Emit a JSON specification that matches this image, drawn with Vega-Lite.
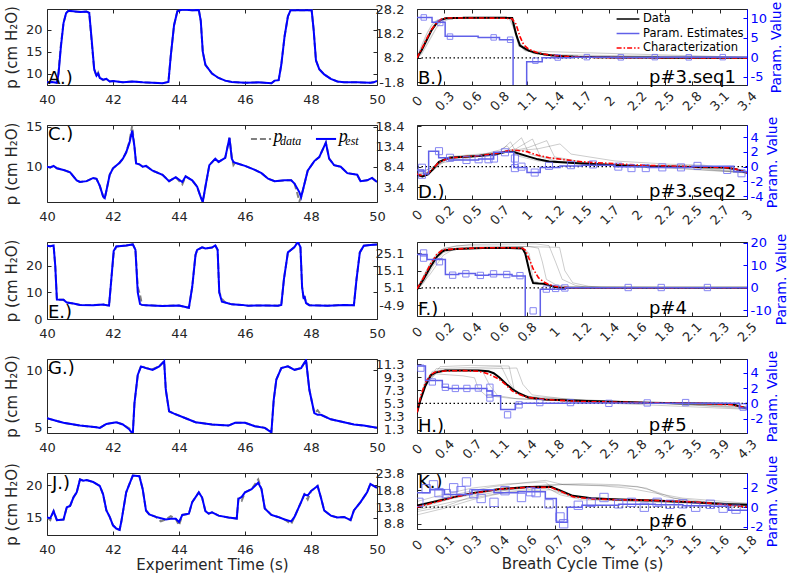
{
"$schema":"https://vega.github.io/schema/vega-lite/v6.json",
"padding":{"left":3,"top":0,"right":0,"bottom":0},
"background":"white",
"columns":2,
"spacing":{"row":40,"column":40},
"bounds":"flush",
"resolve":{"scale":{"color":"independent","strokeDash":"independent"},"legend":{"color":"independent","strokeDash":"independent"}},
"config":{
 "font":"DejaVu Sans",
 "locale":{"number":{"decimal":".","thousands":",","grouping":[3],"currency":["$",""],"minus":"-"}},
 "view":{"stroke":"#262626","strokeWidth":1},
 "axis":{"domain":false,"grid":false,"tickSize":-4,"tickColor":"#262626","labelColor":"#262626","labelFontSize":13,"labelFlush":false,"labelOverlap":false,"titleFontSize":15,"titleFontWeight":"normal","titleColor":"#262626","labelFont":"DejaVu Sans","titleFont":"DejaVu Sans"},
 "axisRight":{"titleFontSize":14},
 "text":{"font":"DejaVu Sans","fontSize":18,"color":"#000000"}
},
"concat":[
 {"width":330,"height":76,
  "data":{"values":[{"t":40,"e":8,"d":8},{"t":40.15,"e":8.1,"d":8.1},{"t":40.3,"e":7.9,"d":7.9},{"t":40.35,"e":10,"d":10.5},{"t":40.42,"e":16,"d":16.5},{"t":40.5,"e":21.5,"d":21.5},{"t":40.58,"e":23.8,"d":23.8},{"t":40.65,"e":24.3,"d":24.3},{"t":40.8,"e":24.2,"d":24.1},{"t":41,"e":24,"d":24.1},{"t":41.2,"e":24.1,"d":24.1},{"t":41.28,"e":23.8,"d":23.8},{"t":41.35,"e":18,"d":17.5},{"t":41.43,"e":11,"d":11},{"t":41.5,"e":9.5,"d":9.4},{"t":41.55,"e":10,"d":10.2},{"t":41.6,"e":9,"d":9},{"t":41.7,"e":8.6,"d":8.5},{"t":41.8,"e":8.8,"d":8.8},{"t":41.9,"e":8.2,"d":8.2},{"t":42,"e":8.3,"d":8.3},{"t":42.3,"e":8,"d":8},{"t":42.6,"e":8.2,"d":8.2},{"t":42.9,"e":8,"d":8},{"t":43.2,"e":7.9,"d":7.9},{"t":43.5,"e":7.8,"d":7.8},{"t":43.62,"e":8,"d":8},{"t":43.68,"e":8.1,"d":8.1},{"t":43.75,"e":14,"d":14},{"t":43.85,"e":21,"d":21},{"t":43.95,"e":24.2,"d":24.2},{"t":44.1,"e":24.6,"d":24.6},{"t":44.4,"e":24.4,"d":24.4},{"t":44.6,"e":24.5,"d":24.5},{"t":44.66,"e":22,"d":22},{"t":44.72,"e":15,"d":15},{"t":44.8,"e":12,"d":12},{"t":45,"e":10,"d":10},{"t":45.2,"e":9,"d":9},{"t":45.4,"e":8.4,"d":8.4},{"t":45.6,"e":8.1,"d":8.1},{"t":46,"e":7.9,"d":7.9},{"t":46.4,"e":8,"d":8},{"t":46.8,"e":7.8,"d":7.8},{"t":46.9,"e":8.4,"d":8.4},{"t":47.02,"e":8.5,"d":8.5},{"t":47.1,"e":12,"d":12},{"t":47.2,"e":18.5,"d":18.5},{"t":47.3,"e":23,"d":23},{"t":47.38,"e":24.4,"d":24.4},{"t":47.6,"e":24.4,"d":24.4},{"t":47.8,"e":24.4,"d":24.4},{"t":48.02,"e":24.4,"d":24.4},{"t":48.08,"e":20,"d":20},{"t":48.15,"e":13,"d":13},{"t":48.25,"e":11,"d":11},{"t":48.4,"e":9.8,"d":9.8},{"t":48.6,"e":8.8,"d":8.8},{"t":48.8,"e":8.2,"d":8.2},{"t":49,"e":8,"d":8},{"t":49.4,"e":8,"d":8},{"t":49.8,"e":7.9,"d":7.9},{"t":49.9,"e":8,"d":8},{"t":50,"e":8.3,"d":8.3}]},
  "layer":[
   {"mark":{"type":"line","color":"#808080","strokeWidth":2,"strokeDash":[6,3],"clip":true},
    "encoding":{"x":{"field":"t","type":"quantitative","scale":{"domain":[40,50],"nice":false},"axis":{"orient":"top","labels":false,"title":null,"values":[40,42,44,46,48,50]}},
     "y":{"field":"d","type":"quantitative","scale":{"domain":[7.4,24.7],"nice":false,"zero":false},"axis":{"orient":"right","labels":false,"title":null,"values":[10,15,20]}}}},
   {"mark":{"type":"line","color":"#0000ff","strokeWidth":2,"clip":true},
    "encoding":{"x":{"field":"t","type":"quantitative","scale":{"domain":[40,50],"nice":false},"axis":{"title":null,"values":[40,42,44,46,48,50],"labelPadding":12}},
     "y":{"field":"e","type":"quantitative","scale":{"domain":[7.4,24.7],"nice":false,"zero":false},"axis":{"title":"p (cm H₂O)","values":[10,15,20],"labelPadding":9,"titlePadding":6}}}},
   {"data":{"values":[{}]},"mark":{"type":"text","text":"A.)","align":"left","baseline":"alphabetic","dx":1,"dy":-1},
    "encoding":{"x":{"datum":40,"axis":null},"y":{"datum":7.4,"axis":null}}}
  ],
  "resolve":{"axis":{"x":"independent","y":"independent"}}},
 {"width":330,"height":76,
  "data":{"values":[{"t":0,"d":8.2,"c":8.2},{"t":0.05,"d":11.5,"c":12},{"t":0.1,"d":15.5,"c":16},{"t":0.15,"d":19.5,"c":19.8},{"t":0.2,"d":22.3,"c":22.5},{"t":0.25,"d":23.8,"c":24},{"t":0.3,"d":24.4,"c":24.5},{"t":0.5,"d":24.6,"c":24.5},{"t":0.7,"d":24.6,"c":24.5},{"t":0.9,"d":24.6,"c":24.4},{"t":0.98,"d":24.5,"c":24.2},{"t":1.02,"d":18,"c":22},{"t":1.06,"d":13.3,"c":17},{"t":1.1,"d":12.3,"c":13.5},{"t":1.15,"d":11.2,"c":11.8},{"t":1.22,"d":10.3,"c":10.6},{"t":1.3,"d":9.7,"c":9.8},{"t":1.39,"d":9.2,"c":9.3},{"t":1.5,"d":8.9,"c":8.9},{"t":1.67,"d":8.6,"c":8.5},{"t":2,"d":8.4,"c":8.3},{"t":2.5,"d":8.3,"c":8.25},{"t":3,"d":8.3,"c":8.2},{"t":3.4,"d":8.3,"c":8.2}]},
  "layer":[
   {"data":{"values":[{"k":1,"t":0,"v":8.2},{"k":1,"t":0.05,"v":13.5},{"k":1,"t":0.1,"v":18},{"k":1,"t":0.15,"v":21.5},{"k":1,"t":0.2,"v":23.5},{"k":1,"t":0.3,"v":24.4},{"k":1,"t":0.95,"v":24.4},{"k":1,"t":1,"v":20},{"k":1,"t":1.05,"v":13},{"k":1,"t":1.2,"v":10},{"k":1,"t":1.5,"v":8.8},{"k":1,"t":3.4,"v":8.3},{"k":2,"t":0,"v":8},{"k":2,"t":0.05,"v":10},{"k":2,"t":0.1,"v":13.5},{"k":2,"t":0.15,"v":17},{"k":2,"t":0.2,"v":20.5},{"k":2,"t":0.25,"v":22.8},{"k":2,"t":0.35,"v":24.4},{"k":2,"t":0.99,"v":24.6},{"k":2,"t":1.04,"v":15},{"k":2,"t":1.1,"v":11.5},{"k":2,"t":1.3,"v":9.5},{"k":2,"t":3.4,"v":8.3},{"k":3,"t":0,"v":8.4},{"k":3,"t":0.05,"v":12},{"k":3,"t":0.1,"v":16.5},{"k":3,"t":0.2,"v":23},{"k":3,"t":0.3,"v":24.7},{"k":3,"t":0.97,"v":24.8},{"k":3,"t":1.03,"v":16},{"k":3,"t":1.12,"v":11},{"k":3,"t":3.4,"v":8.4}]},
    "mark":{"type":"line","color":"#000000","opacity":0.2,"strokeWidth":1.2,"clip":true},
    "encoding":{"detail":{"field":"k"},
     "x":{"field":"t","type":"quantitative","scale":{"domain":[0,3.4],"nice":false},"axis":{"title":null,"values":[0,0.28333,0.56667,0.85,1.13333,1.41667,1.7,1.98333,2.26667,2.55,2.83333,3.11667,3.4],"labelExpr":"['0','0.3','0.6','0.8','1.1','1.4','1.7','2','2.2','2.5','2.8','3.1','3.4'][round(datum.value*12/3.4)]","labelAngle":-45,"labelAlign":"center","labelBaseline":"middle","labelPadding":20}},
     "y":{"field":"v","type":"quantitative","scale":{"domain":[-2.9,28.2],"nice":false,"zero":false},"axis":{"title":null,"values":[-1.8,8.2,18.2,28.2],"format":".1f","labelPadding":17}}}},
   {"data":{"values":[{}]},"mark":{"type":"rule","color":"#000000","strokeDash":[1.5,2.5],"strokeWidth":1.2},"encoding":{"y":{"datum":8.2,"scale":{"domain":[-2.9,28.2],"nice":false,"zero":false},"axis":null}}},
   {"mark":{"type":"line","strokeWidth":2,"clip":true},
    "encoding":{"x":{"field":"t","type":"quantitative","axis":null},"y":{"field":"d","type":"quantitative","scale":{"domain":[-2.9,28.2],"nice":false,"zero":false},"axis":null},
     "color":{"datum":"Data","scale":{"domain":["Data","Param. Estimates","Characterization"],"range":["#000000","#6060e8","#ff0000"]},"legend":{"title":null,"orient":"top-right","offset":3,"padding":0,"labelFontSize":11.5,"labelColor":"#000000","symbolType":"M-1.9,0H1.9","symbolSize":144,"symbolStrokeWidth":1.5,"labelOffset":8,"rowPadding":1.5}},
     "strokeDash":{"datum":"Data","scale":{"domain":["Data","Param. Estimates","Characterization"],"range":[[1,0],[1,0],[5,2,1.5,2]]}}}},
   {"mark":{"type":"line","strokeWidth":1.6,"clip":true},
    "encoding":{"x":{"field":"t","type":"quantitative","axis":null},"y":{"field":"c","type":"quantitative","scale":{"domain":[-2.9,28.2],"nice":false,"zero":false},"axis":null},"color":{"datum":"Characterization"},"strokeDash":{"datum":"Characterization"}}},
   {"data":{"values":[{}]},"mark":{"type":"text","text":"B.)","align":"left","baseline":"alphabetic","dx":1,"dy":-1},"encoding":{"x":{"datum":0,"axis":null},"y":{"datum":-2.9,"scale":{"domain":[-2.9,28.2],"nice":false,"zero":false},"axis":null}}},
   {"data":{"values":[{}]},"mark":{"type":"text","text":"p#3.seq1","align":"left","baseline":"alphabetic","dy":-2},"encoding":{"x":{"datum":2.39,"axis":null},"y":{"datum":-2.9,"scale":{"domain":[-2.9,28.2],"nice":false,"zero":false},"axis":null}}},
   {"data":{"values":[{"t":0,"p":10.2},{"t":0.155,"p":8.95},{"t":0.29,"p":5.37},{"t":0.63,"p":5.1},{"t":0.85,"p":4.5},{"t":0.99,"p":-12},{"t":1.13,"p":-1.1},{"t":1.29,"p":-0.1},{"t":1.6,"p":0.05},{"t":2,"p":-0.05},{"t":2.5,"p":0.05},{"t":3,"p":0},{"t":3.4,"p":0}]},
    "mark":{"type":"line","interpolate":"step-after","strokeWidth":1.5,"clip":true},
    "encoding":{"x":{"field":"t","type":"quantitative","scale":{"domain":[0,3.4],"nice":false},"axis":{"orient":"top","labels":false,"title":null,"values":[0,0.28333,0.56667,0.85,1.13333,1.41667,1.7,1.98333,2.26667,2.55,2.83333,3.11667,3.4]}},
     "y":{"field":"p","type":"quantitative","scale":{"domain":[-7.07,12.36],"nice":false,"zero":false},"axis":{"orient":"right","title":"Param. Value","values":[-5,0,5,10],"labelColor":"#0000ff","tickColor":"#0000ff","domain":true,"domainColor":"#0000ff","titleColor":"#0000ff","labelPadding":7,"titlePadding":3,"titleAngle":270,"titleBaseline":"top"}},
     "color":{"datum":"Param. Estimates"},"strokeDash":{"datum":"Param. Estimates"}}},
   {"data":{"values":[{"t":0.07,"p":10.2},{"t":0.24,"p":8.8},{"t":0.34,"p":5.3},{"t":0.79,"p":5.1},{"t":0.96,"p":4.5},{"t":1.22,"p":-0.85},{"t":1.45,"p":-0.05},{"t":1.75,"p":0.05},{"t":2.1,"p":0},{"t":2.45,"p":0.05},{"t":2.8,"p":0},{"t":3.15,"p":0.05}]},
    "mark":{"type":"point","shape":"square","size":30,"color":"#6a6af0","strokeWidth":1,"opacity":0.8,"clip":true},
    "encoding":{"x":{"field":"t","type":"quantitative","axis":null},"y":{"field":"p","type":"quantitative","scale":{"domain":[-7.07,12.36],"nice":false,"zero":false},"axis":null}}}
  ],
  "resolve":{"scale":{"y":"independent"},"axis":{"x":"independent","y":"independent"}}},
 {"width":330,"height":77,
  "data":{"values":[{"t":40,"e":10,"d":10},{"t":40.1,"e":9.9,"d":9.9},{"t":40.2,"e":10.1,"d":10.1},{"t":40.3,"e":9.8,"d":9.8},{"t":40.5,"e":9.6,"d":9.6},{"t":40.7,"e":9.3,"d":9.3},{"t":40.9,"e":8.3,"d":8.3},{"t":41,"e":8.1,"d":8.1},{"t":41.2,"e":8.2,"d":8.2},{"t":41.4,"e":8.6,"d":8.6},{"t":41.5,"e":8.5,"d":8.5},{"t":41.6,"e":7.6,"d":7.6},{"t":41.7,"e":6.3,"d":6.3},{"t":41.75,"e":6.1,"d":6},{"t":41.8,"e":7,"d":7},{"t":41.9,"e":9,"d":9},{"t":42,"e":9.8,"d":9.8},{"t":42.2,"e":10.5,"d":10.5},{"t":42.3,"e":11,"d":11},{"t":42.4,"e":11.8,"d":11.8},{"t":42.5,"e":13,"d":13.2},{"t":42.58,"e":14.5,"d":15.1},{"t":42.65,"e":12.5,"d":12.5},{"t":42.7,"e":10.4,"d":10.4},{"t":42.8,"e":10.3,"d":10.3},{"t":42.9,"e":10,"d":10},{"t":43,"e":10.1,"d":10.1},{"t":43.2,"e":9.5,"d":9.5},{"t":43.5,"e":9,"d":9},{"t":43.7,"e":8.2,"d":8.2},{"t":43.9,"e":8.7,"d":8.7},{"t":44.1,"e":8.1,"d":7.8},{"t":44.2,"e":8.8,"d":8.8},{"t":44.4,"e":8.3,"d":8.3},{"t":44.55,"e":7.5,"d":7.5},{"t":44.65,"e":6.3,"d":6.3},{"t":44.72,"e":5.6,"d":5.6},{"t":44.8,"e":7.5,"d":7.5},{"t":44.92,"e":10.2,"d":10.2},{"t":45.1,"e":11,"d":11},{"t":45.2,"e":10.6,"d":10.6},{"t":45.4,"e":11.1,"d":11.1},{"t":45.53,"e":13.6,"d":13.6},{"t":45.6,"e":11,"d":11.2},{"t":45.65,"e":10.6,"d":10.2},{"t":45.7,"e":10.5,"d":10.5},{"t":46,"e":10.1,"d":10.1},{"t":46.3,"e":9.6,"d":9.6},{"t":46.5,"e":9.2,"d":9.2},{"t":46.7,"e":8.5,"d":8.5},{"t":46.9,"e":8.2,"d":8.2},{"t":47.2,"e":8.3,"d":8.3},{"t":47.4,"e":8.3,"d":8.3},{"t":47.5,"e":7.9,"d":7.9},{"t":47.65,"e":6.8,"d":5.7},{"t":47.7,"e":6.2,"d":6.2},{"t":47.75,"e":7,"d":7},{"t":47.9,"e":9.5,"d":9.5},{"t":48.1,"e":10.7,"d":10.7},{"t":48.25,"e":11.2,"d":11.2},{"t":48.45,"e":13,"d":13},{"t":48.55,"e":11,"d":11},{"t":48.7,"e":10.2,"d":10.2},{"t":48.9,"e":10,"d":10},{"t":49.1,"e":9.2,"d":9.2},{"t":49.4,"e":9,"d":9},{"t":49.5,"e":8.2,"d":8.2},{"t":49.7,"e":8.3,"d":8.3},{"t":49.85,"e":8.6,"d":8.6},{"t":50,"e":8.1,"d":8.1}]},
  "layer":[
   {"mark":{"type":"line","color":"#808080","strokeWidth":2,"strokeDash":[6,3],"clip":true},
    "encoding":{"x":{"field":"t","type":"quantitative","scale":{"domain":[40,50],"nice":false},"axis":{"orient":"top","labels":false,"title":null,"values":[40,42,44,46,48,50]}},
     "y":{"field":"d","type":"quantitative","scale":{"domain":[5.6,15.2],"nice":false,"zero":false},"axis":{"orient":"right","labels":false,"title":null,"values":[10,15]}}}},
   {"mark":{"type":"line","color":"#0000ff","strokeWidth":2,"clip":true},
    "encoding":{"x":{"field":"t","type":"quantitative","scale":{"domain":[40,50],"nice":false},"axis":{"title":null,"values":[40,42,44,46,48,50],"labelPadding":12}},
     "y":{"field":"e","type":"quantitative","scale":{"domain":[5.6,15.2],"nice":false,"zero":false},"axis":{"title":"p (cm H₂O)","values":[10,15],"labelPadding":9,"titlePadding":6}}}},
   {"data":{"values":[{}]},"mark":{"type":"text","text":"C.)","align":"left","baseline":"top","dx":1,"dy":1},
    "encoding":{"x":{"datum":40,"axis":null},"y":{"datum":15.2,"axis":null}}},
   {"data":{"values":[{}]},"mark":{"type":"rule","color":"#808080","strokeWidth":2,"strokeDash":[6,3]},
    "encoding":{"x":{"datum":46.18,"axis":null},"x2":{"datum":46.79},"y":{"datum":13.46,"axis":null}}},
   {"data":{"values":[{}]},"mark":{"type":"text","text":"p","font":"Liberation Serif","fontStyle":"italic","fontSize":18,"align":"left","baseline":"alphabetic"},
    "encoding":{"x":{"datum":46.86,"axis":null},"y":{"datum":13.1,"axis":null}}},
   {"data":{"values":[{}]},"mark":{"type":"text","text":"data","font":"Liberation Serif","fontStyle":"italic","fontSize":12,"align":"left","baseline":"alphabetic"},
    "encoding":{"x":{"datum":47.06,"axis":null},"y":{"datum":12.75,"axis":null}}},
   {"data":{"values":[{}]},"mark":{"type":"rule","color":"#0000ff","strokeWidth":2},
    "encoding":{"x":{"datum":48.15,"axis":null},"x2":{"datum":48.76},"y":{"datum":13.46,"axis":null}}},
   {"data":{"values":[{}]},"mark":{"type":"text","text":"p","font":"Liberation Serif","fontStyle":"italic","fontSize":18,"align":"left","baseline":"alphabetic"},
    "encoding":{"x":{"datum":48.84,"axis":null},"y":{"datum":13.1,"axis":null}}},
   {"data":{"values":[{}]},"mark":{"type":"text","text":"est","font":"Liberation Serif","fontStyle":"italic","fontSize":12,"align":"left","baseline":"alphabetic"},
    "encoding":{"x":{"datum":49.04,"axis":null},"y":{"datum":12.75,"axis":null}}}
  ],
  "resolve":{"axis":{"x":"independent","y":"independent"}}},
 {"width":330,"height":74,
  "data":{"values":[{"t":0,"d":6.4,"c":6.6},{"t":0.05,"d":6,"c":6.2},{"t":0.1,"d":6.5,"c":6.8},{"t":0.14,"d":7.6,"c":7.8},{"t":0.2,"d":9.6,"c":9.5},{"t":0.29,"d":10.6,"c":10.5},{"t":0.4,"d":10.8,"c":10.8},{"t":0.56,"d":11,"c":11.1},{"t":0.71,"d":11.4,"c":11.6},{"t":0.8,"d":12,"c":12.2},{"t":0.88,"d":12,"c":12.5},{"t":1,"d":11,"c":12.1},{"t":1.1,"d":10.2,"c":11.2},{"t":1.2,"d":9.7,"c":10.6},{"t":1.5,"d":9.2,"c":9.6},{"t":2,"d":8.5,"c":8.8},{"t":2.5,"d":8.3,"c":8.4},{"t":2.8,"d":8.2,"c":8.2},{"t":2.9,"d":7.8,"c":7.8},{"t":3,"d":6.9,"c":7}]},
  "layer":[
   {"data":{"values":[{"k":1,"t":0,"v":6.2},{"k":1,"t":0.05,"v":5.8},{"k":1,"t":0.15,"v":8},{"k":1,"t":0.25,"v":10.4},{"k":1,"t":0.5,"v":11},{"k":1,"t":0.75,"v":12},{"k":1,"t":0.85,"v":14.5},{"k":1,"t":0.92,"v":11},{"k":1,"t":1.1,"v":9.8},{"k":1,"t":1.5,"v":9.2},{"k":1,"t":2,"v":8.6},{"k":1,"t":2.5,"v":8.4},{"k":1,"t":3,"v":7},{"k":2,"t":0,"v":6.6},{"k":2,"t":0.05,"v":6.2},{"k":2,"t":0.15,"v":7.8},{"k":2,"t":0.25,"v":10.5},{"k":2,"t":0.5,"v":10.9},{"k":2,"t":0.8,"v":12},{"k":2,"t":0.95,"v":15.5},{"k":2,"t":1.02,"v":11.5},{"k":2,"t":1.3,"v":9.6},{"k":2,"t":2,"v":8.6},{"k":2,"t":2.5,"v":8.2},{"k":2,"t":3,"v":6.8},{"k":3,"t":0,"v":6.4},{"k":3,"t":0.15,"v":7.5},{"k":3,"t":0.25,"v":10.2},{"k":3,"t":0.6,"v":11.2},{"k":3,"t":0.9,"v":12.8},{"k":3,"t":1.05,"v":15.2},{"k":3,"t":1.12,"v":11},{"k":3,"t":1.5,"v":9.4},{"k":3,"t":2,"v":8.7},{"k":3,"t":2.6,"v":8.6},{"k":3,"t":3,"v":7.2},{"k":4,"t":0,"v":6},{"k":4,"t":0.15,"v":7.7},{"k":4,"t":0.3,"v":10.7},{"k":4,"t":0.7,"v":11.5},{"k":4,"t":1,"v":13},{"k":4,"t":1.18,"v":14.8},{"k":4,"t":1.25,"v":10.8},{"k":4,"t":1.6,"v":9.1},{"k":4,"t":2.2,"v":8.4},{"k":4,"t":3,"v":6.9},{"k":5,"t":0,"v":6.8},{"k":5,"t":0.15,"v":8.2},{"k":5,"t":0.3,"v":10.9},{"k":5,"t":0.7,"v":11.8},{"k":5,"t":1.1,"v":12.8},{"k":5,"t":1.3,"v":14},{"k":5,"t":1.4,"v":11.5},{"k":5,"t":1.8,"v":9.8},{"k":5,"t":2.3,"v":9},{"k":5,"t":2.6,"v":8.8},{"k":5,"t":3,"v":7.3},{"k":6,"t":0,"v":6.3},{"k":6,"t":0.2,"v":9.2},{"k":6,"t":0.5,"v":10.7},{"k":6,"t":0.75,"v":12.5},{"k":6,"t":0.82,"v":13.5},{"k":6,"t":0.88,"v":11.5},{"k":6,"t":1.2,"v":9.8},{"k":6,"t":2,"v":8.5},{"k":6,"t":3,"v":6.9}]},
    "mark":{"type":"line","color":"#000000","opacity":0.2,"strokeWidth":1,"clip":true},
    "encoding":{"detail":{"field":"k"},
     "x":{"field":"t","type":"quantitative","scale":{"domain":[0,3],"nice":false},"axis":{"title":null,"values":[0,0.25,0.5,0.75,1,1.25,1.5,1.75,2,2.25,2.5,2.75,3],"labelExpr":"['0','0.2','0.5','0.7','1','1.2','1.5','1.7','2','2.2','2.5','2.7','3'][round(datum.value*4)]","labelAngle":-45,"labelAlign":"center","labelBaseline":"middle","labelPadding":20}},
     "y":{"field":"v","type":"quantitative","scale":{"domain":[0.45,18.65],"nice":false,"zero":false},"axis":{"title":null,"values":[3.4,8.4,13.4,18.4],"format":".1f","labelPadding":17}}}},
   {"data":{"values":[{}]},"mark":{"type":"rule","color":"#000000","strokeDash":[1.5,2.5],"strokeWidth":1.2},"encoding":{"y":{"datum":8.4,"scale":{"domain":[0.45,18.65],"nice":false,"zero":false},"axis":null}}},
   {"mark":{"type":"line","color":"#000000","strokeWidth":2,"clip":true},
    "encoding":{"x":{"field":"t","type":"quantitative","axis":null},"y":{"field":"d","type":"quantitative","scale":{"domain":[0.45,18.65],"nice":false,"zero":false},"axis":null}}},
   {"mark":{"type":"line","color":"#ff0000","strokeWidth":1.6,"strokeDash":[5,2,1.5,2],"clip":true},
    "encoding":{"x":{"field":"t","type":"quantitative","axis":null},"y":{"field":"c","type":"quantitative","scale":{"domain":[0.45,18.65],"nice":false,"zero":false},"axis":null}}},
   {"data":{"values":[{}]},"mark":{"type":"text","text":"D.)","align":"left","baseline":"alphabetic","dx":1,"dy":-1},"encoding":{"x":{"datum":0,"axis":null},"y":{"datum":0.45,"scale":{"domain":[0.45,18.65],"nice":false,"zero":false},"axis":null}}},
   {"data":{"values":[{}]},"mark":{"type":"text","text":"p#3.seq2","align":"left","baseline":"alphabetic","dy":-2},"encoding":{"x":{"datum":2.11,"axis":null},"y":{"datum":0.45,"scale":{"domain":[0.45,18.65],"nice":false,"zero":false},"axis":null}}},
   {"data":{"values":[{"t":0,"p":-0.45},{"t":0.06,"p":-1},{"t":0.106,"p":2.1},{"t":0.197,"p":1.2},{"t":0.288,"p":0.9},{"t":0.56,"p":1.05},{"t":0.697,"p":1.95},{"t":0.88,"p":-0.1},{"t":1,"p":-0.8},{"t":1.12,"p":-0.1},{"t":1.3,"p":0.1},{"t":1.5,"p":0.2},{"t":1.8,"p":0},{"t":2.1,"p":-0.1},{"t":2.5,"p":0.05},{"t":2.88,"p":-0.7},{"t":3,"p":-0.7}]},
    "mark":{"type":"line","interpolate":"step-after","color":"#6060e8","strokeWidth":1.5,"clip":true},
    "encoding":{"x":{"field":"t","type":"quantitative","scale":{"domain":[0,3],"nice":false},"axis":{"orient":"top","labels":false,"title":null,"values":[0,0.25,0.5,0.75,1,1.25,1.5,1.75,2,2.25,2.5,2.75,3]}},
     "y":{"field":"p","type":"quantitative","scale":{"domain":[-4.39,5.65],"nice":false,"zero":false},"axis":{"orient":"right","title":"Param. Value","values":[-4,-2,0,2,4],"labelColor":"#0000ff","tickColor":"#0000ff","domain":true,"domainColor":"#0000ff","titleColor":"#0000ff","labelPadding":7,"titlePadding":3,"titleAngle":270,"titleBaseline":"top"}}}},
   {"data":{"values":[{"t":0.045,"p":-0.15},{"t":0.045,"p":-1.1},{"t":0.2,"p":2.1},{"t":0.3,"p":1.2},{"t":0.45,"p":0.9},{"t":0.56,"p":1},{"t":0.65,"p":1},{"t":0.7,"p":1.1},{"t":0.8,"p":1.95},{"t":0.89,"p":1.1},{"t":0.89,"p":-0.2},{"t":0.95,"p":0},{"t":1.07,"p":-0.8},{"t":1.2,"p":0.1},{"t":1.4,"p":0.2},{"t":1.6,"p":0.3},{"t":1.83,"p":0},{"t":1.95,"p":-0.2},{"t":2.08,"p":-0.2},{"t":2.23,"p":-0.1},{"t":2.4,"p":-0.1},{"t":2.55,"p":0.1},{"t":2.82,"p":-0.45},{"t":2.95,"p":-0.9}]},
    "mark":{"type":"point","shape":"square","size":50,"color":"#6a6af0","strokeWidth":1,"opacity":0.8,"clip":true},
    "encoding":{"x":{"field":"t","type":"quantitative","axis":null},"y":{"field":"p","type":"quantitative","scale":{"domain":[-4.39,5.65],"nice":false,"zero":false},"axis":null}}}
  ],
  "resolve":{"scale":{"y":"independent"},"axis":{"x":"independent","y":"independent"}}},
 {"width":330,"height":77,
  "data":{"values":[{"t":40,"e":27.5,"d":27.5},{"t":40.1,"e":27.3,"d":27.3},{"t":40.2,"e":27.6,"d":27.6},{"t":40.25,"e":20,"d":20},{"t":40.3,"e":7.3,"d":7.3},{"t":40.5,"e":7.2,"d":7.2},{"t":40.6,"e":6.2,"d":6.2},{"t":40.8,"e":5.8,"d":5.8},{"t":41,"e":5.3,"d":5.3},{"t":41.4,"e":5.2,"d":5.2},{"t":41.7,"e":5.4,"d":5.4},{"t":41.88,"e":5,"d":5},{"t":41.95,"e":15,"d":15},{"t":42.02,"e":25.5,"d":24.5},{"t":42.1,"e":27.2,"d":27.2},{"t":42.4,"e":27.6,"d":27.6},{"t":42.6,"e":28,"d":28},{"t":42.68,"e":26,"d":26},{"t":42.75,"e":10,"d":12},{"t":42.82,"e":5.6,"d":9},{"t":42.88,"e":5.3,"d":5.3},{"t":43,"e":5.2,"d":5.2},{"t":43.5,"e":4.9,"d":4.9},{"t":44,"e":5.1,"d":5.1},{"t":44.3,"e":4.2,"d":4.2},{"t":44.4,"e":12,"d":12},{"t":44.5,"e":24,"d":24},{"t":44.55,"e":25.9,"d":25.9},{"t":44.7,"e":26.9,"d":26.9},{"t":44.8,"e":26.5,"d":26.5},{"t":45,"e":26.8,"d":26.8},{"t":45.1,"e":27.6,"d":27.6},{"t":45.17,"e":26,"d":26},{"t":45.22,"e":10,"d":10},{"t":45.3,"e":6.5,"d":7.5},{"t":45.4,"e":6.2,"d":6.2},{"t":45.6,"e":5.5,"d":5.5},{"t":45.9,"e":5.3,"d":5.3},{"t":46.1,"e":5,"d":5},{"t":46.6,"e":5.1,"d":5.1},{"t":47,"e":5,"d":5},{"t":47.1,"e":5.3,"d":5.3},{"t":47.18,"e":15,"d":15},{"t":47.3,"e":25,"d":25},{"t":47.5,"e":27,"d":27},{"t":47.6,"e":28.9,"d":28.9},{"t":47.68,"e":27,"d":27},{"t":47.73,"e":12,"d":12},{"t":47.78,"e":7.5,"d":7.5},{"t":47.8,"e":8.6,"d":8.6},{"t":47.85,"e":6,"d":6},{"t":47.95,"e":5.2,"d":5.2},{"t":48.5,"e":5,"d":5},{"t":49,"e":5.3,"d":5.3},{"t":49.3,"e":5.2,"d":5.2},{"t":49.38,"e":15,"d":15},{"t":49.48,"e":25,"d":25},{"t":49.6,"e":27.5,"d":27.5},{"t":49.8,"e":27.8,"d":27.8},{"t":50,"e":28,"d":28}]},
  "layer":[
   {"mark":{"type":"line","color":"#808080","strokeWidth":2,"strokeDash":[6,3],"clip":true},
    "encoding":{"x":{"field":"t","type":"quantitative","scale":{"domain":[40,50],"nice":false},"axis":{"orient":"top","labels":false,"title":null,"values":[40,42,44,46,48,50]}},
     "y":{"field":"d","type":"quantitative","scale":{"domain":[0,28.9],"nice":false,"zero":false},"axis":{"orient":"right","labels":false,"title":null,"values":[0,10,20]}}}},
   {"mark":{"type":"line","color":"#0000ff","strokeWidth":2,"clip":true},
    "encoding":{"x":{"field":"t","type":"quantitative","scale":{"domain":[40,50],"nice":false},"axis":{"title":null,"values":[40,42,44,46,48,50],"labelPadding":12}},
     "y":{"field":"e","type":"quantitative","scale":{"domain":[0,28.9],"nice":false,"zero":false},"axis":{"title":"p (cm H₂O)","values":[0,10,20],"labelPadding":9,"titlePadding":6}}}},
   {"data":{"values":[{}]},"mark":{"type":"text","text":"E.)","align":"left","baseline":"alphabetic","dx":1,"dy":-1},
    "encoding":{"x":{"datum":40,"axis":null},"y":{"datum":0,"axis":null}}}
  ],
  "resolve":{"axis":{"x":"independent","y":"independent"}}},
 {"width":330,"height":74,
  "data":{"values":[{"t":0,"d":4.2,"c":4.5},{"t":0.05,"d":10,"c":11},{"t":0.1,"d":17,"c":18.5},{"t":0.15,"d":23,"c":24.5},{"t":0.19,"d":26,"c":26.8},{"t":0.21,"d":26.8,"c":27.2},{"t":0.3,"d":27.6,"c":27.6},{"t":0.5,"d":28.1,"c":28.3},{"t":0.7,"d":28.1,"c":28.3},{"t":0.8,"d":27.8,"c":28},{"t":0.82,"d":25,"c":27},{"t":0.86,"d":12,"c":20},{"t":0.88,"d":7.9,"c":16},{"t":0.92,"d":7.6,"c":11},{"t":0.96,"d":7.4,"c":8.5},{"t":1,"d":6.5,"c":7},{"t":1.05,"d":5.6,"c":6},{"t":1.09,"d":5.2,"c":5.3},{"t":1.2,"d":5.1,"c":5.1},{"t":2.5,"d":5.1,"c":5.1}]},
  "layer":[
   {"data":{"values":[{"k":1,"t":0,"v":3.5},{"k":1,"t":0.05,"v":8},{"k":1,"t":0.1,"v":15},{"k":1,"t":0.15,"v":21},{"k":1,"t":0.2,"v":25.5},{"k":1,"t":0.3,"v":27.8},{"k":1,"t":0.8,"v":28.3},{"k":1,"t":0.85,"v":25},{"k":1,"t":0.88,"v":9},{"k":1,"t":1,"v":6.5},{"k":1,"t":1.1,"v":5.2},{"k":1,"t":2.5,"v":5.1},{"k":2,"t":0,"v":5},{"k":2,"t":0.07,"v":15},{"k":2,"t":0.12,"v":22},{"k":2,"t":0.18,"v":27},{"k":2,"t":0.3,"v":29.5},{"k":2,"t":0.85,"v":29},{"k":2,"t":0.92,"v":28},{"k":2,"t":0.95,"v":20},{"k":2,"t":0.98,"v":10},{"k":2,"t":1.05,"v":7},{"k":2,"t":1.15,"v":5.5},{"k":2,"t":2.5,"v":5.1},{"k":3,"t":0,"v":4.5},{"k":3,"t":0.1,"v":19},{"k":3,"t":0.2,"v":28},{"k":3,"t":0.4,"v":30.2},{"k":3,"t":0.9,"v":30.5},{"k":3,"t":1,"v":29.5},{"k":3,"t":1.05,"v":20},{"k":3,"t":1.1,"v":10},{"k":3,"t":1.2,"v":6.5},{"k":3,"t":1.3,"v":5.3},{"k":3,"t":2.5,"v":5.1},{"k":4,"t":0,"v":4},{"k":4,"t":0.1,"v":13},{"k":4,"t":0.2,"v":24},{"k":4,"t":0.3,"v":28.3},{"k":4,"t":0.8,"v":29},{"k":4,"t":1.08,"v":28.5},{"k":4,"t":1.12,"v":15},{"k":4,"t":1.18,"v":8},{"k":4,"t":1.3,"v":6},{"k":4,"t":1.4,"v":5.4},{"k":4,"t":2.5,"v":5.1}]},
    "mark":{"type":"line","color":"#000000","opacity":0.2,"strokeWidth":1,"clip":true},
    "encoding":{"detail":{"field":"k"},
     "x":{"field":"t","type":"quantitative","scale":{"domain":[0,2.5],"nice":false},"axis":{"title":null,"values":[0,0.20833,0.41667,0.625,0.83333,1.04167,1.25,1.45833,1.66667,1.875,2.08333,2.29167,2.5],"labelExpr":"['0','0.2','0.4','0.6','0.8','1','1.2','1.4','1.6','1.8','2.1','2.3','2.5'][round(datum.value*12/2.5)]","labelAngle":-45,"labelAlign":"center","labelBaseline":"middle","labelPadding":20}},
     "y":{"field":"v","type":"quantitative","scale":{"domain":[-11.2,31.6],"nice":false,"zero":false},"axis":{"title":null,"values":[-4.9,5.1,15.1,25.1],"format":".1f","labelPadding":17}}}},
   {"data":{"values":[{}]},"mark":{"type":"rule","color":"#000000","strokeDash":[1.5,2.5],"strokeWidth":1.2},"encoding":{"y":{"datum":5.1,"scale":{"domain":[-11.2,31.6],"nice":false,"zero":false},"axis":null}}},
   {"mark":{"type":"line","color":"#000000","strokeWidth":2,"clip":true},
    "encoding":{"x":{"field":"t","type":"quantitative","axis":null},"y":{"field":"d","type":"quantitative","scale":{"domain":[-11.2,31.6],"nice":false,"zero":false},"axis":null}}},
   {"mark":{"type":"line","color":"#ff0000","strokeWidth":1.6,"strokeDash":[5,2,1.5,2],"clip":true},
    "encoding":{"x":{"field":"t","type":"quantitative","axis":null},"y":{"field":"c","type":"quantitative","scale":{"domain":[-11.2,31.6],"nice":false,"zero":false},"axis":null}}},
   {"data":{"values":[{}]},"mark":{"type":"text","text":"F.)","align":"left","baseline":"alphabetic","dx":1,"dy":-1},"encoding":{"x":{"datum":0,"axis":null},"y":{"datum":-11.2,"scale":{"domain":[-11.2,31.6],"nice":false,"zero":false},"axis":null}}},
   {"data":{"values":[{}]},"mark":{"type":"text","text":"p#4","align":"left","baseline":"alphabetic","dy":-2},"encoding":{"x":{"datum":1.757,"axis":null},"y":{"datum":-11.2,"scale":{"domain":[-11.2,31.6],"nice":false,"zero":false},"axis":null}}},
   {"data":{"values":[{"t":0,"p":14.8},{"t":0.076,"p":12.6},{"t":0.215,"p":5.9},{"t":0.316,"p":6.4},{"t":0.442,"p":5.6},{"t":0.543,"p":5.9},{"t":0.72,"p":5.2},{"t":0.82,"p":-15},{"t":0.934,"p":-0.7},{"t":1.124,"p":0},{"t":2.5,"p":0}]},
    "mark":{"type":"line","interpolate":"step-after","color":"#6060e8","strokeWidth":1.5,"clip":true},
    "encoding":{"x":{"field":"t","type":"quantitative","scale":{"domain":[0,2.5],"nice":false},"axis":{"orient":"top","labels":false,"title":null,"values":[0,0.20833,0.41667,0.625,0.83333,1.04167,1.25,1.45833,1.66667,1.875,2.08333,2.29167,2.5]}},
     "y":{"field":"p","type":"quantitative","scale":{"domain":[-12.6,20.4],"nice":false,"zero":false},"axis":{"orient":"right","title":"Param. Value","values":[-10,0,10,20],"labelColor":"#0000ff","tickColor":"#0000ff","domain":true,"domainColor":"#0000ff","titleColor":"#0000ff","labelPadding":7,"titlePadding":3,"titleAngle":270,"titleBaseline":"top"}}}},
   {"data":{"values":[{"t":0.05,"p":15.5},{"t":0.05,"p":13.2},{"t":0.17,"p":11.6},{"t":0.27,"p":5.6},{"t":0.37,"p":6.2},{"t":0.48,"p":5.5},{"t":0.58,"p":6.2},{"t":0.68,"p":5.9},{"t":0.78,"p":5.4},{"t":0.88,"p":-10.3},{"t":0.98,"p":-0.6},{"t":1.05,"p":-0.3},{"t":1.12,"p":-0.1},{"t":1.6,"p":0.1},{"t":1.85,"p":0.1},{"t":2.2,"p":0.1}]},
    "mark":{"type":"point","shape":"square","size":40,"color":"#6a6af0","strokeWidth":1,"opacity":0.8,"clip":true},
    "encoding":{"x":{"field":"t","type":"quantitative","axis":null},"y":{"field":"p","type":"quantitative","scale":{"domain":[-12.6,20.4],"nice":false,"zero":false},"axis":null}}}
  ],
  "resolve":{"scale":{"y":"independent"},"axis":{"x":"independent","y":"independent"}}},
 {"width":330,"height":74,
  "data":{"values":[{"t":40,"e":5.8,"d":5.8},{"t":40.3,"e":5.55,"d":5.55},{"t":40.5,"e":5.4,"d":5.4},{"t":41,"e":5.15,"d":5.15},{"t":41.5,"e":5,"d":5},{"t":41.6,"e":4.95,"d":4.95},{"t":41.8,"e":5.3,"d":5.3},{"t":42.1,"e":5.45,"d":5.45},{"t":42.3,"e":5.25,"d":5.25},{"t":42.5,"e":4.8,"d":4.9},{"t":42.6,"e":4.4,"d":4.5},{"t":42.65,"e":7.1,"d":7.1},{"t":42.75,"e":9.6,"d":9.6},{"t":42.85,"e":10.35,"d":10.4},{"t":43,"e":10.2,"d":10.2},{"t":43.2,"e":10.05,"d":10.1},{"t":43.4,"e":10.35,"d":10.35},{"t":43.55,"e":10.8,"d":10.8},{"t":43.6,"e":8.3,"d":8.3},{"t":43.7,"e":6.4,"d":6.4},{"t":43.85,"e":6.2,"d":6.2},{"t":44.2,"e":5.8,"d":5.8},{"t":44.5,"e":5.45,"d":5.45},{"t":45,"e":5.25,"d":5.25},{"t":45.5,"e":5.15,"d":5.15},{"t":45.7,"e":5.4,"d":5.4},{"t":46,"e":5.4,"d":5.4},{"t":46.3,"e":5.1,"d":5.1},{"t":46.6,"e":4.95,"d":4.95},{"t":46.8,"e":4.55,"d":4.6},{"t":46.87,"e":7.4,"d":7.4},{"t":46.95,"e":9.2,"d":9.2},{"t":47.1,"e":10.2,"d":10.2},{"t":47.3,"e":10.35,"d":10.35},{"t":47.5,"e":10.05,"d":10.05},{"t":47.7,"e":10.2,"d":10.2},{"t":47.85,"e":10.9,"d":10.9},{"t":47.95,"e":8.3,"d":8.3},{"t":48.1,"e":6.25,"d":6.25},{"t":48.2,"e":6.1,"d":6.5},{"t":48.3,"e":6.1,"d":6.1},{"t":48.6,"e":5.7,"d":5.7},{"t":49,"e":5.45,"d":5.45},{"t":49.3,"e":5.25,"d":5.25},{"t":49.6,"e":5.15,"d":5.15},{"t":50,"e":4.95,"d":4.95}]},
  "layer":[
   {"mark":{"type":"line","color":"#808080","strokeWidth":2,"strokeDash":[6,3],"clip":true},
    "encoding":{"x":{"field":"t","type":"quantitative","scale":{"domain":[40,50],"nice":false},"axis":{"orient":"top","labels":false,"title":null,"values":[40,42,44,46,48,50]}},
     "y":{"field":"d","type":"quantitative","scale":{"domain":[4.5,11],"nice":false,"zero":false},"axis":{"orient":"right","labels":false,"title":null,"values":[5,10]}}}},
   {"mark":{"type":"line","color":"#0000ff","strokeWidth":2,"clip":true},
    "encoding":{"x":{"field":"t","type":"quantitative","scale":{"domain":[40,50],"nice":false},"axis":{"title":null,"values":[40,42,44,46,48,50],"labelPadding":12}},
     "y":{"field":"e","type":"quantitative","scale":{"domain":[4.5,11],"nice":false,"zero":false},"axis":{"title":"p (cm H₂O)","values":[5,10],"labelPadding":9,"titlePadding":6}}}},
   {"data":{"values":[{}]},"mark":{"type":"text","text":"G.)","align":"left","baseline":"top","dx":1,"dy":1},
    "encoding":{"x":{"datum":40,"axis":null},"y":{"datum":11,"axis":null}}}
  ],
  "resolve":{"axis":{"x":"independent","y":"independent"}}},
 {"width":330,"height":74,
  "data":{"values":[{"t":0,"d":3.9,"c":3.9},{"t":0.05,"d":6,"c":6.5},{"t":0.11,"d":8,"c":8.5},{"t":0.18,"d":9.6,"c":9.7},{"t":0.24,"d":10,"c":10.1},{"t":0.37,"d":10.3,"c":10.25},{"t":0.6,"d":10.3,"c":10.3},{"t":0.8,"d":10.3,"c":10.2},{"t":0.93,"d":10.2,"c":9.8},{"t":1,"d":9.9,"c":9.4},{"t":1.07,"d":9.3,"c":9},{"t":1.17,"d":8.2,"c":8},{"t":1.24,"d":7.5,"c":7.2},{"t":1.32,"d":6.9,"c":6.7},{"t":1.45,"d":6.2,"c":6.2},{"t":1.67,"d":5.9,"c":5.9},{"t":2.1,"d":5.7,"c":5.6},{"t":3,"d":5.4,"c":5.4},{"t":3.7,"d":5.3,"c":5.3},{"t":4.1,"d":5.2,"c":5.1},{"t":4.3,"d":4.5,"c":4.6}]},
  "layer":[
   {"data":{"values":[{"k":1,"t":0,"v":3.5},{"k":1,"t":0.1,"v":8.5},{"k":1,"t":0.2,"v":10.2},{"k":1,"t":0.6,"v":10.4},{"k":1,"t":0.85,"v":10.3},{"k":1,"t":0.95,"v":8},{"k":1,"t":1.05,"v":6.5},{"k":1,"t":1.3,"v":6},{"k":1,"t":2,"v":5.7},{"k":1,"t":3,"v":5.4},{"k":1,"t":4.1,"v":5.3},{"k":1,"t":4.3,"v":4.6},{"k":2,"t":0,"v":4.3},{"k":2,"t":0.1,"v":8},{"k":2,"t":0.25,"v":10.6},{"k":2,"t":0.8,"v":10.8},{"k":2,"t":1.1,"v":10.9},{"k":2,"t":1.2,"v":8.5},{"k":2,"t":1.3,"v":6.8},{"k":2,"t":1.6,"v":6},{"k":2,"t":2.5,"v":5.6},{"k":2,"t":4.3,"v":4.7},{"k":3,"t":0,"v":3.8},{"k":3,"t":0.12,"v":8.8},{"k":3,"t":0.3,"v":10.4},{"k":3,"t":1,"v":10.6},{"k":3,"t":1.3,"v":10.7},{"k":3,"t":1.38,"v":8.2},{"k":3,"t":1.5,"v":6.6},{"k":3,"t":2,"v":5.9},{"k":3,"t":3,"v":5.5},{"k":3,"t":4.3,"v":4.5},{"k":4,"t":0,"v":4.1},{"k":4,"t":0.1,"v":7.8},{"k":4,"t":0.3,"v":10.9},{"k":4,"t":0.7,"v":11.1},{"k":4,"t":1.2,"v":11},{"k":4,"t":1.27,"v":7.2},{"k":4,"t":1.4,"v":6.4},{"k":4,"t":2.2,"v":5.8},{"k":4,"t":4.3,"v":4.8},{"k":5,"t":0,"v":3.6},{"k":5,"t":0.1,"v":8.2},{"k":5,"t":0.25,"v":9.8},{"k":5,"t":0.6,"v":9.5},{"k":5,"t":0.75,"v":9.2},{"k":5,"t":0.8,"v":7.5},{"k":5,"t":0.9,"v":6.5},{"k":5,"t":1.2,"v":6.1},{"k":5,"t":2,"v":5.6},{"k":5,"t":4.3,"v":4.4}]},
    "mark":{"type":"line","color":"#000000","opacity":0.2,"strokeWidth":1,"clip":true},
    "encoding":{"detail":{"field":"k"},
     "x":{"field":"t","type":"quantitative","scale":{"domain":[0,4.3],"nice":false},"axis":{"title":null,"values":[0,0.35833,0.71667,1.075,1.43333,1.79167,2.15,2.50833,2.86667,3.225,3.58333,3.94167,4.3],"labelExpr":"['0','0.4','0.7','1.1','1.4','1.8','2.1','2.5','2.8','3.2','3.5','3.9','4.3'][round(datum.value*12/4.3)]","labelAngle":-45,"labelAlign":"center","labelBaseline":"middle","labelPadding":20}},
     "y":{"field":"v","type":"quantitative","scale":{"domain":[0.79,12.07],"nice":false,"zero":false},"axis":{"title":null,"values":[1.3,3.3,5.3,7.3,9.3,11.3],"format":".1f","labelPadding":17}}}},
   {"data":{"values":[{}]},"mark":{"type":"rule","color":"#000000","strokeDash":[1.5,2.5],"strokeWidth":1.2},"encoding":{"y":{"datum":5.3,"scale":{"domain":[0.79,12.07],"nice":false,"zero":false},"axis":null}}},
   {"mark":{"type":"line","color":"#000000","strokeWidth":2,"clip":true},
    "encoding":{"x":{"field":"t","type":"quantitative","axis":null},"y":{"field":"d","type":"quantitative","scale":{"domain":[0.79,12.07],"nice":false,"zero":false},"axis":null}}},
   {"mark":{"type":"line","color":"#ff0000","strokeWidth":1.6,"strokeDash":[5,2,1.5,2],"clip":true},
    "encoding":{"x":{"field":"t","type":"quantitative","axis":null},"y":{"field":"c","type":"quantitative","scale":{"domain":[0.79,12.07],"nice":false,"zero":false},"axis":null}}},
   {"data":{"values":[{}]},"mark":{"type":"text","text":"H.)","align":"left","baseline":"alphabetic","dx":1,"dy":-1},"encoding":{"x":{"datum":0,"axis":null},"y":{"datum":0.79,"scale":{"domain":[0.79,12.07],"nice":false,"zero":false},"axis":null}}},
   {"data":{"values":[{}]},"mark":{"type":"text","text":"p#5","align":"left","baseline":"alphabetic","dy":-2},"encoding":{"x":{"datum":3.02,"axis":null},"y":{"datum":0.79,"scale":{"domain":[0.79,12.07],"nice":false,"zero":false},"axis":null}}},
   {"data":{"values":[{"t":0,"p":4.9},{"t":0.11,"p":3},{"t":0.33,"p":2.1},{"t":0.41,"p":1.95},{"t":0.91,"p":1.6},{"t":0.98,"p":1},{"t":1.09,"p":-0.8},{"t":1.28,"p":-0.1},{"t":1.37,"p":0},{"t":2,"p":0.05},{"t":3,"p":0},{"t":4.2,"p":-0.6},{"t":4.3,"p":-0.6}]},
    "mark":{"type":"line","interpolate":"step-after","color":"#6060e8","strokeWidth":1.5,"clip":true},
    "encoding":{"x":{"field":"t","type":"quantitative","scale":{"domain":[0,4.3],"nice":false},"axis":{"orient":"top","labels":false,"title":null,"values":[0,0.35833,0.71667,1.075,1.43333,1.79167,2.15,2.50833,2.86667,3.225,3.58333,3.94167,4.3]}},
     "y":{"field":"p","type":"quantitative","scale":{"domain":[-3.88,5.8],"nice":false,"zero":false},"axis":{"orient":"right","title":"Param. Value","values":[-2,0,2,4],"labelColor":"#0000ff","tickColor":"#0000ff","domain":true,"domainColor":"#0000ff","titleColor":"#0000ff","labelPadding":7,"titlePadding":3,"titleAngle":270,"titleBaseline":"top"}}}},
   {"data":{"values":[{"t":0.05,"p":4.6},{"t":0.2,"p":2.8},{"t":0.37,"p":2.1},{"t":0.5,"p":1.95},{"t":0.65,"p":1.95},{"t":0.8,"p":2},{"t":0.95,"p":2.1},{"t":0.95,"p":1.2},{"t":0.95,"p":0.7},{"t":1.18,"p":-1.5},{"t":1.33,"p":-0.2},{"t":1.6,"p":0.1},{"t":2,"p":0.1},{"t":2.5,"p":0},{"t":3,"p":0.05},{"t":3.5,"p":0.1},{"t":4.25,"p":-0.5}]},
    "mark":{"type":"point","shape":"square","size":40,"color":"#6a6af0","strokeWidth":1,"opacity":0.8,"clip":true},
    "encoding":{"x":{"field":"t","type":"quantitative","axis":null},"y":{"field":"p","type":"quantitative","scale":{"domain":[-3.88,5.8],"nice":false,"zero":false},"axis":null}}}
  ],
  "resolve":{"scale":{"y":"independent"},"axis":{"x":"independent","y":"independent"}}},
 {"width":330,"height":62,
  "data":{"values":[{"t":40,"e":15,"d":15},{"t":40.1,"e":14.9,"d":14.6},{"t":40.2,"e":16,"d":16},{"t":40.3,"e":14.6,"d":14.6},{"t":40.5,"e":14.7,"d":14.7},{"t":40.6,"e":16.6,"d":16.6},{"t":40.7,"e":16.8,"d":16.8},{"t":40.8,"e":18.1,"d":18.1},{"t":40.9,"e":18.9,"d":18.9},{"t":41,"e":20.9,"d":20.9},{"t":41.1,"e":20.7,"d":20.7},{"t":41.2,"e":20.8,"d":20.8},{"t":41.4,"e":20.5,"d":20.5},{"t":41.6,"e":19.9,"d":19.9},{"t":41.7,"e":18.6,"d":18.6},{"t":41.8,"e":16.1,"d":16.1},{"t":41.9,"e":15.1,"d":15.1},{"t":42,"e":13.8,"d":13.8},{"t":42.1,"e":13.3,"d":13.3},{"t":42.2,"e":13.1,"d":13.1},{"t":42.25,"e":14.3,"d":14.3},{"t":42.4,"e":18.9,"d":18.9},{"t":42.5,"e":20.2,"d":20.2},{"t":42.6,"e":21.5,"d":21.5},{"t":42.8,"e":21.4,"d":21.4},{"t":42.9,"e":19.4,"d":19.4},{"t":43,"e":16.1,"d":16.1},{"t":43.1,"e":15.5,"d":15.5},{"t":43.3,"e":15.1,"d":15.1},{"t":43.45,"e":14.9,"d":14.4},{"t":43.6,"e":14.7,"d":14.7},{"t":43.75,"e":14.8,"d":15.2},{"t":43.9,"e":14.8,"d":14.8},{"t":44,"e":14.3,"d":13.8},{"t":44.1,"e":15.4,"d":15.4},{"t":44.3,"e":15.6,"d":15.6},{"t":44.4,"e":17.4,"d":17.4},{"t":44.6,"e":18.9,"d":18.9},{"t":44.7,"e":18.1,"d":18.1},{"t":44.8,"e":16,"d":16},{"t":44.9,"e":15.6,"d":15.6},{"t":45,"e":15.8,"d":15.8},{"t":45.2,"e":15.3,"d":15.3},{"t":45.5,"e":15,"d":15},{"t":45.75,"e":14.85,"d":14.85},{"t":45.8,"e":17.9,"d":17.9},{"t":45.9,"e":18.2,"d":17.6},{"t":46,"e":18.9,"d":18.9},{"t":46.2,"e":19.4,"d":19.4},{"t":46.4,"e":20.4,"d":20.9},{"t":46.5,"e":19.4,"d":19.4},{"t":46.6,"e":16.4,"d":16.4},{"t":46.8,"e":15.4,"d":15.4},{"t":47,"e":15.1,"d":15.1},{"t":47.2,"e":14.7,"d":14.7},{"t":47.4,"e":14.4,"d":14},{"t":47.5,"e":15.1,"d":15.1},{"t":47.7,"e":17.4,"d":17.4},{"t":47.8,"e":18.6,"d":18.6},{"t":47.9,"e":18.4,"d":17.8},{"t":48,"e":19.1,"d":19.1},{"t":48.2,"e":19.9,"d":19.9},{"t":48.3,"e":18.1,"d":18.1},{"t":48.4,"e":16.1,"d":16.1},{"t":48.6,"e":15.3,"d":15.3},{"t":48.8,"e":15,"d":15},{"t":49,"e":15.1,"d":15.1},{"t":49.2,"e":14.6,"d":14.6},{"t":49.3,"e":16.1,"d":16.1},{"t":49.5,"e":17.4,"d":17.4},{"t":49.7,"e":18.9,"d":18.9},{"t":49.8,"e":20.2,"d":20.2},{"t":50,"e":19.6,"d":19.6}]},
  "layer":[
   {"mark":{"type":"line","color":"#808080","strokeWidth":2,"strokeDash":[6,3],"clip":true},
    "encoding":{"x":{"field":"t","type":"quantitative","scale":{"domain":[40,50],"nice":false},"axis":{"orient":"top","labels":false,"title":null,"values":[40,42,44,46,48,50]}},
     "y":{"field":"d","type":"quantitative","scale":{"domain":[12.3,21.9],"nice":false,"zero":false},"axis":{"orient":"right","labels":false,"title":null,"values":[15,20]}}}},
   {"mark":{"type":"line","color":"#0000ff","strokeWidth":2,"clip":true},
    "encoding":{"x":{"field":"t","type":"quantitative","scale":{"domain":[40,50],"nice":false},"axis":{"title":"Experiment Time (s)","values":[40,42,44,46,48,50],"labelPadding":12,"titlePadding":1}},
     "y":{"field":"e","type":"quantitative","scale":{"domain":[12.3,21.9],"nice":false,"zero":false},"axis":{"title":"p (cm H₂O)","values":[15,20],"labelPadding":9,"titlePadding":6}}}},
   {"data":{"values":[{}]},"mark":{"type":"text","text":"J.)","align":"left","baseline":"top","dx":5,"dy":2},
    "encoding":{"x":{"datum":40,"axis":null},"y":{"datum":21.9,"axis":null}}}
  ],
  "resolve":{"axis":{"x":"independent","y":"independent"}}},
 {"width":330,"height":56,
  "data":{"values":[{"t":0,"d":14.3,"c":13.8},{"t":0.1,"d":15.5,"c":15.3},{"t":0.2,"d":16.8,"c":16.8},{"t":0.3,"d":18,"c":17.9},{"t":0.45,"d":19.2,"c":19.2},{"t":0.6,"d":19.8,"c":19.7},{"t":0.73,"d":19.9,"c":19.7},{"t":0.78,"d":18.8,"c":18.6},{"t":0.85,"d":17.2,"c":16.9},{"t":0.95,"d":16.5,"c":16.3},{"t":1.1,"d":16.1,"c":16},{"t":1.3,"d":15.8,"c":15.8},{"t":1.5,"d":15.3,"c":15.4},{"t":1.6,"d":15,"c":15},{"t":1.7,"d":14.7,"c":14.4},{"t":1.8,"d":14.5,"c":13.9}]},
  "layer":[
   {"data":{"values":[{"k":1,"t":0,"v":13.5},{"k":1,"t":0.2,"v":16.5},{"k":1,"t":0.4,"v":18.5},{"k":1,"t":0.6,"v":19.5},{"k":1,"t":0.73,"v":20.2},{"k":1,"t":0.8,"v":20.6},{"k":1,"t":1,"v":20.3},{"k":1,"t":1.2,"v":20},{"k":1,"t":1.3,"v":18.5},{"k":1,"t":1.4,"v":16.5},{"k":1,"t":1.6,"v":15.3},{"k":1,"t":1.8,"v":14.8},{"k":2,"t":0,"v":12.5},{"k":2,"t":0.15,"v":14},{"k":2,"t":0.3,"v":17},{"k":2,"t":0.5,"v":19},{"k":2,"t":0.7,"v":20.5},{"k":2,"t":0.9,"v":20.8},{"k":2,"t":1.1,"v":20.5},{"k":2,"t":1.25,"v":19.5},{"k":2,"t":1.35,"v":17},{"k":2,"t":1.5,"v":15.5},{"k":2,"t":1.8,"v":14.6},{"k":3,"t":0,"v":15.5},{"k":3,"t":0.1,"v":17},{"k":3,"t":0.3,"v":19.5},{"k":3,"t":0.5,"v":20.8},{"k":3,"t":0.7,"v":21.3},{"k":3,"t":0.75,"v":19},{"k":3,"t":0.85,"v":17},{"k":3,"t":1,"v":16.5},{"k":3,"t":1.3,"v":15.8},{"k":3,"t":1.8,"v":14.2},{"k":4,"t":0,"v":11.5},{"k":4,"t":0.15,"v":13.5},{"k":4,"t":0.3,"v":16},{"k":4,"t":0.5,"v":18.5},{"k":4,"t":0.7,"v":19.5},{"k":4,"t":0.78,"v":18},{"k":4,"t":0.9,"v":16.5},{"k":4,"t":1.2,"v":15.5},{"k":4,"t":1.5,"v":15.2},{"k":4,"t":1.8,"v":14},{"k":5,"t":0,"v":14},{"k":5,"t":0.2,"v":17.5},{"k":5,"t":0.4,"v":19.8},{"k":5,"t":0.6,"v":21.2},{"k":5,"t":0.7,"v":21.8},{"k":5,"t":0.8,"v":20.5},{"k":5,"t":1,"v":20.2},{"k":5,"t":1.15,"v":19.5},{"k":5,"t":1.3,"v":18},{"k":5,"t":1.45,"v":16.5},{"k":5,"t":1.8,"v":15},{"k":6,"t":0,"v":13},{"k":6,"t":0.2,"v":15.5},{"k":6,"t":0.4,"v":17.5},{"k":6,"t":0.55,"v":18.5},{"k":6,"t":0.73,"v":19},{"k":6,"t":0.78,"v":17.5},{"k":6,"t":0.9,"v":16},{"k":6,"t":1.2,"v":15.6},{"k":6,"t":1.8,"v":14.3}]},
    "mark":{"type":"line","color":"#000000","opacity":0.2,"strokeWidth":1,"clip":true},
    "encoding":{"detail":{"field":"k"},
     "x":{"field":"t","type":"quantitative","scale":{"domain":[0,1.8],"nice":false},"axis":{"title":"Breath Cycle Time (s)","titlePadding":-1,"values":[0,0.15,0.3,0.45,0.6,0.75,0.9,1.05,1.2,1.35,1.5,1.65,1.8],"labelExpr":"['0','0.1','0.3','0.4','0.6','0.7','0.9','1','1.2','1.3','1.5','1.6','1.8'][round(datum.value/0.15)]","labelAngle":-45,"labelAlign":"center","labelBaseline":"middle","labelPadding":20}},
     "y":{"field":"v","type":"quantitative","scale":{"domain":[7.3,24],"nice":false,"zero":false},"axis":{"title":null,"values":[8.8,13.8,18.8,23.8],"format":".1f","labelPadding":17}}}},
   {"data":{"values":[{}]},"mark":{"type":"rule","color":"#000000","strokeDash":[1.5,2.5],"strokeWidth":1.2},"encoding":{"y":{"datum":13.8,"scale":{"domain":[7.3,24],"nice":false,"zero":false},"axis":null}}},
   {"mark":{"type":"line","color":"#000000","strokeWidth":2,"clip":true},
    "encoding":{"x":{"field":"t","type":"quantitative","axis":null},"y":{"field":"d","type":"quantitative","scale":{"domain":[7.3,24],"nice":false,"zero":false},"axis":null}}},
   {"mark":{"type":"line","color":"#ff0000","strokeWidth":1.6,"strokeDash":[5,2,1.5,2],"clip":true},
    "encoding":{"x":{"field":"t","type":"quantitative","axis":null},"y":{"field":"c","type":"quantitative","scale":{"domain":[7.3,24],"nice":false,"zero":false},"axis":null}}},
   {"data":{"values":[{}]},"mark":{"type":"text","text":"K.)","align":"left","baseline":"top","dx":1,"dy":1},"encoding":{"x":{"datum":0,"axis":null},"y":{"datum":24,"scale":{"domain":[7.3,24],"nice":false,"zero":false},"axis":null}}},
   {"data":{"values":[{}]},"mark":{"type":"text","text":"p#6","align":"left","baseline":"alphabetic","dy":-2},"encoding":{"x":{"datum":1.265,"axis":null},"y":{"datum":7.3,"scale":{"domain":[7.3,24],"nice":false,"zero":false},"axis":null}}},
   {"data":{"values":[{"t":0,"p":1.5},{"t":0.07,"p":1.8},{"t":0.15,"p":1.3},{"t":0.3,"p":1.8},{"t":0.42,"p":1.5},{"t":0.55,"p":1.6},{"t":0.7,"p":0.9},{"t":0.76,"p":-1.55},{"t":0.82,"p":0},{"t":0.9,"p":0.2},{"t":1.1,"p":0.3},{"t":1.3,"p":0.25},{"t":1.45,"p":0.15},{"t":1.6,"p":0.1},{"t":1.7,"p":-0.3},{"t":1.8,"p":-0.3}]},
    "mark":{"type":"line","interpolate":"step-after","color":"#6060e8","strokeWidth":1.5,"clip":true},
    "encoding":{"x":{"field":"t","type":"quantitative","scale":{"domain":[0,1.8],"nice":false},"axis":{"orient":"top","labels":false,"title":null,"values":[0,0.15,0.3,0.45,0.6,0.75,0.9,1.05,1.2,1.35,1.5,1.65,1.8]}},
     "y":{"field":"p","type":"quantitative","scale":{"domain":[-2.24,3.52],"nice":false,"zero":false},"axis":{"orient":"right","title":"Param. Value","values":[-2,0,2],"labelColor":"#0000ff","tickColor":"#0000ff","domain":true,"domainColor":"#0000ff","titleColor":"#0000ff","labelPadding":7,"titlePadding":3,"titleAngle":270,"titleBaseline":"top"}}}},
   {"data":{"values":[{"t":0.01,"p":0.5},{"t":0.05,"p":1.9},{"t":0.09,"p":2.3},{"t":0.12,"p":1.5},{"t":0.16,"p":1.4},{"t":0.2,"p":2},{"t":0.24,"p":1.7},{"t":0.27,"p":2.6},{"t":0.31,"p":1.4},{"t":0.35,"p":0.9},{"t":0.42,"p":0.5},{"t":0.48,"p":1.7},{"t":0.57,"p":1},{"t":0.62,"p":1.6},{"t":0.65,"p":1.5},{"t":0.72,"p":0.35},{"t":0.78,"p":-1},{"t":0.8,"p":-1.7},{"t":0.88,"p":0.2},{"t":0.95,"p":0.5},{"t":1.02,"p":1},{"t":1.1,"p":0.35},{"t":1.17,"p":0.5},{"t":1.24,"p":0},{"t":1.31,"p":0.5},{"t":1.38,"p":0.3},{"t":1.45,"p":0.35},{"t":1.52,"p":0},{"t":1.6,"p":0.3},{"t":1.67,"p":-0.1},{"t":1.74,"p":-0.2}]},
    "mark":{"type":"point","shape":"square","size":70,"color":"#6a6af0","strokeWidth":1,"opacity":0.8,"clip":true},
    "encoding":{"x":{"field":"t","type":"quantitative","axis":null},"y":{"field":"p","type":"quantitative","scale":{"domain":[-2.24,3.52],"nice":false,"zero":false},"axis":null}}}
  ],
  "resolve":{"scale":{"y":"independent"},"axis":{"x":"independent","y":"independent"}}}
]
}
